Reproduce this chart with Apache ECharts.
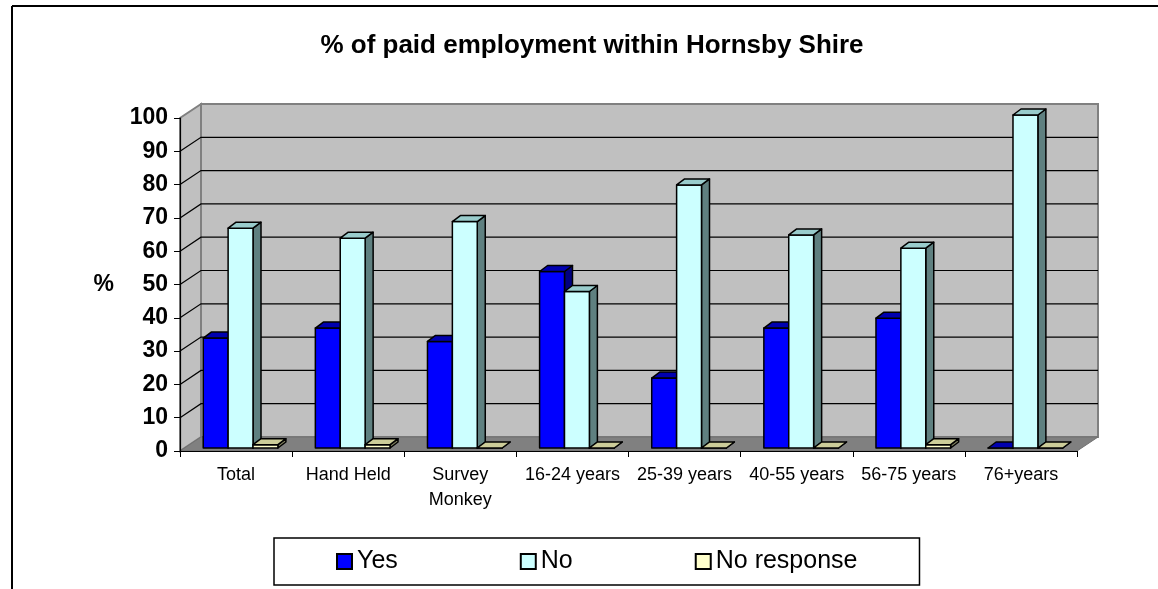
<!DOCTYPE html>
<html>
<head>
<meta charset="utf-8">
<script src="https://cdn.jsdelivr.net/npm/echarts@6/dist/echarts.min.js"></script>
<style>
  html, body { margin: 0; padding: 0; background: #fff; }
  #main { width: 1158px; height: 589px; }
</style>
</head>
<body>
<div id="main"></div>
<script>
// chart data
const categories = ['Total', 'Hand Held', 'Survey\nMonkey', '16-24 years', '25-39 years', '40-55 years', '56-75 years', '76+years'];
const yesValues = [33, 36, 32, 53, 21, 36, 39, 0];
const noValues = [66, 63, 68, 47, 79, 64, 60, 100];
const noResponseValues = [1, 1, 0, 0, 0, 0, 1, 0];
const yMin = 0, yMax = 100, yStep = 10;

// fake 3d look
const WALL_DX = 21, WALL_DY = 14;   // depth of the walls
const BAR_DX = 8, BAR_DY = 6;       // depth of each bar
const BAR_SHIFT_X = 4.5, BAR_SHIFT_Y = 3;
const BAR_RATIO = 0.222;

const seriesDefs = [
  { name: 'Yes', values: yesValues, front: '#0000FF', top: '#0000B0', side: '#000080' },
  { name: 'No', values: noValues, front: '#CCFFFF', top: '#99CCCC', side: '#5F8080' },
  { name: 'No response', values: noResponseValues, front: '#FFFFCC', top: '#CCCC99', side: '#808060' }
];

const chart = echarts.init(document.getElementById('main'), null, { renderer: 'canvas' });

function renderWalls(params, api) {
  const cs = params.coordSys;
  const x = cs.x, w = cs.width;
  const y0 = api.coord([0, yMin])[1];
  const yTop = api.coord([0, yMax])[1];
  const children = [];
  // left side wall
  children.push({
    type: 'polygon',
    shape: { points: [[x, y0], [x, yTop], [x + WALL_DX, yTop - WALL_DY], [x + WALL_DX, y0 - WALL_DY]] },
    style: { fill: '#C0C0C0', stroke: '#808080', lineWidth: 2 }
  });
  // back wall
  children.push({
    type: 'rect',
    shape: { x: x + WALL_DX, y: yTop - WALL_DY, width: w, height: y0 - yTop },
    style: { fill: '#C0C0C0', stroke: '#808080', lineWidth: 2 }
  });
  // floor
  children.push({
    type: 'polygon',
    shape: { points: [[x, y0], [x + WALL_DX, y0 - WALL_DY], [x + w + WALL_DX, y0 - WALL_DY], [x + w, y0]] },
    style: { fill: '#808080', stroke: '#707070', lineWidth: 1 }
  });
  for (let v = yMin + yStep; v < yMax; v += yStep) {
    const yy = api.coord([0, v])[1];
    children.push({
      type: 'polyline',
      shape: { points: [[x, yy], [x + WALL_DX, yy - WALL_DY], [x + w + WALL_DX, yy - WALL_DY]] },
      style: { fill: null, stroke: '#000', lineWidth: 1.2 }
    });
  }
  return { type: 'group', children: children };
}

function makeBarRenderer(k, def) {
  return function (params, api) {
    const cat = api.value(0);
    const val = api.value(1);
    const base = api.coord([cat, 0]);
    const top = api.coord([cat, val]);
    const bandW = api.size([1, 0])[0];
    const bw = bandW * BAR_RATIO;
    const x0 = base[0] - 1.5 * bw + k * bw + BAR_SHIFT_X;
    const yb = base[1] - BAR_SHIFT_Y;
    const yt = top[1] - BAR_SHIFT_Y;
    const line = { stroke: '#000', lineWidth: 1.5, lineJoin: 'round' };
    return {
      type: 'group',
      children: [
        {
          type: 'polygon',
          shape: { points: [[x0 + bw, yt], [x0 + bw + BAR_DX, yt - BAR_DY], [x0 + bw + BAR_DX, yb - BAR_DY], [x0 + bw, yb]] },
          style: Object.assign({ fill: def.side }, line)
        },
        {
          type: 'rect',
          shape: { x: x0, y: yt, width: bw, height: yb - yt },
          style: Object.assign({ fill: def.front }, line)
        },
        {
          type: 'polygon',
          shape: { points: [[x0, yt], [x0 + BAR_DX, yt - BAR_DY], [x0 + bw + BAR_DX, yt - BAR_DY], [x0 + bw, yt]] },
          style: Object.assign({ fill: def.top }, line)
        }
      ]
    };
  };
}

const series = [{
  name: 'walls',
  type: 'custom',
  silent: true,
  z: 0,
  clip: false,
  data: [[0, 0]],
  renderItem: renderWalls
}];

seriesDefs.forEach((def, k) => {
  series.push({
    name: def.name,
    type: 'custom',
    z: 3,
    clip: false,
    itemStyle: { color: def.front, borderColor: '#000', borderWidth: 1 },
    encode: { x: 0, y: 1 },
    data: def.values.map((v, i) => [i, v]),
    renderItem: makeBarRenderer(k, def)
  });
});

const option = {
  backgroundColor: '#fff',
  animation: false,
  legend: {
    data: ['Yes', 'No', 'No response'],
    left: 274,
    top: 538,
    padding: [11, 62, 11, 62],
    itemGap: 122,
    itemWidth: 15,
    itemHeight: 15,
    icon: 'rect',
    borderColor: '#000',
    borderWidth: 1.5,
    textStyle: { fontFamily: 'Liberation Sans, Arial', fontSize: 25, color: '#000' }
  },
  grid: { left: 180, right: 81, top: 118, bottom: 138 },
  xAxis: {
    type: 'category',
    data: categories,
    axisLine: { lineStyle: { color: '#000', width: 1.2 } },
    axisTick: { show: true, length: 6, lineStyle: { color: '#000' } },
    axisLabel: {
      interval: 0,
      margin: 12,
      fontFamily: 'Liberation Sans, Arial',
      fontSize: 18,
      lineHeight: 25,
      color: '#000'
    }
  },
  yAxis: {
    type: 'value',
    min: yMin,
    max: yMax,
    interval: yStep,
    name: '%',
    nameLocation: 'middle',
    nameRotate: 0,
    nameGap: 66,
    nameTextStyle: { fontFamily: 'Liberation Sans, Arial', fontWeight: 'bold', fontSize: 23, color: '#000' },
    axisLine: { show: true, lineStyle: { color: '#000', width: 1.2 } },
    axisTick: { show: true, length: 6, lineStyle: { color: '#000' } },
    axisLabel: {
      margin: 12,
      fontFamily: 'Liberation Sans, Arial',
      fontWeight: 'bold',
      fontSize: 23,
      color: '#000'
    },
    splitLine: { show: false }
  },
  graphic: [
    { type: 'line', shape: { x1: 12, y1: 6, x2: 1158, y2: 6 }, style: { stroke: '#000', lineWidth: 2 } },
    { type: 'line', shape: { x1: 12, y1: 6, x2: 12, y2: 589 }, style: { stroke: '#000', lineWidth: 2 } },
    {
      type: 'text',
      x: 592,
      y: 46,
      style: {
        text: '% of paid employment within Hornsby Shire',
        textAlign: 'center',
        textVerticalAlign: 'middle',
        font: 'bold 26px "Liberation Sans", Arial',
        fill: '#000'
      }
    }
  ],
  series: series
};

chart.setOption(option);
</script>
</body>
</html>
